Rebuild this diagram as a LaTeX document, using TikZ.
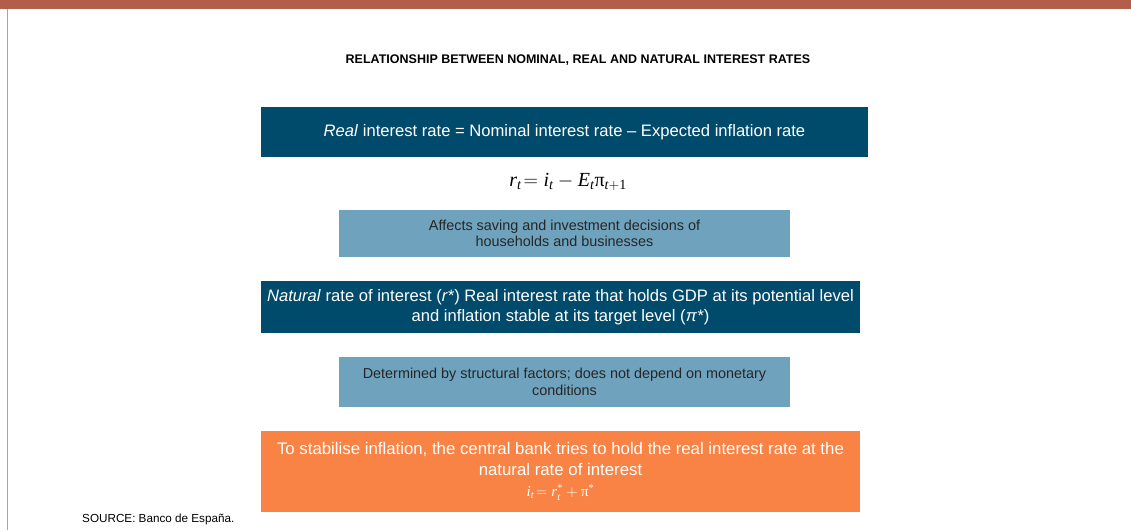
\documentclass[tikz,border=0pt]{standalone}
\usepackage{fix-cm}
\usepackage{amsmath}
\usepackage{fontspec}
\setmainfont{Liberation Sans}
\newfontfamily\eqfont{Liberation Serif}
\definecolor{bdeteal}{RGB}{0,75,107}
\definecolor{bdelight}{RGB}{111,163,189}
\definecolor{bdeorange}{RGB}{249,131,69}
\definecolor{bdebar}{RGB}{179,94,74}
\definecolor{bdeedge}{RGB}{214,150,110}
\newcommand{\eqv}[1]{\text{\eqfont\itshape #1}}
\newcommand{\equp}[1]{\text{\eqfont\upshape #1}}
\begin{document}
\begin{tikzpicture}[
            x=1pt, y=-1pt,
            every node/.style={
                inner sep=0pt,
                align=center
            },
            darkbox/.style={
                fill=bdeteal,
                text=white,
                font=\fontsize{16.6}{20}\selectfont
            },
            lightbox/.style={
                fill=bdelight,
                text=black!85,
                font=\fontsize{14.4}{16.5}\selectfont
            },
            orangebox/.style={
                fill=bdeorange,
                text=white,
                font=\fontsize{16.8}{20.5}\selectfont
            }
        ]
        \useasboundingbox (0,0) rectangle (1131,530);

        % Marco
        \fill[bdebar] (0,0) rectangle (1131,9);
        \draw[bdeedge, line width=1.5pt] (7.5,9) -- (7.5,530);

        % Titulo
        \node[font=\bfseries\fontsize{12.5}{15}\selectfont] (title) at (578,60)
            {RELATIONSHIP BETWEEN NOMINAL, REAL AND NATURAL INTEREST RATES};

        % Cajas
        \node[darkbox, minimum width=607pt, minimum height=50pt] (real) at (564.5,132)
            {\textit{Real} interest rate = Nominal interest rate -- Expected inflation rate};
        \node[font=\fontsize{20}{24}\selectfont] (realeq) at (568,182)
            {$\eqv{r}_{\eqv{t}}\!= \eqv{i}_{\eqv{t}} - \eqv{E}_{\eqv{t}}\equp{π}_{\eqv{t}+\equp{1}}$};
        \node[lightbox, minimum width=451pt, minimum height=47pt] (saving) at (564.5,233.5)
            {Affects saving and investment decisions of\\households and businesses};
        \node[darkbox, minimum width=599pt, minimum height=52pt] (natural) at (560.5,307)
            {\textit{Natural} rate of interest (\textit{r*}) Real interest rate that holds GDP at its potential level\\and inflation stable at its target level (\textit{π*})};
        \node[lightbox, minimum width=451pt, minimum height=50pt] (structural) at (564.5,382)
            {Determined by structural factors; does not depend on monetary\\conditions};
        \node[orangebox, minimum width=599pt, minimum height=81pt] (policy) at (560.5,471.5)
            {To stabilise inflation, the central bank tries to hold the real interest rate at the\\natural rate of interest\\[1pt]
             {\fontsize{15}{18}\selectfont$\eqv{i}_{\eqv{t}}\!= \eqv{r}_{\eqv{t}}^{\equp{*}} + \equp{π}^{\equp{*}}$}};

        % Fuente
        \node[anchor=west, font=\fontsize{11.7}{14}\selectfont] (source) at (82,519)
            {SOURCE: Banco de España.};

        \end{tikzpicture}
\end{document}
